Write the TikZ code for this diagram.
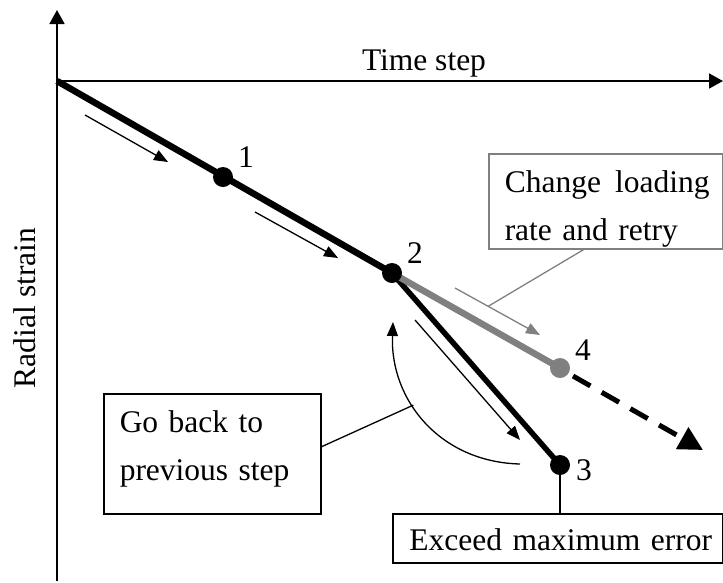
\documentclass[tikz,border=0pt]{standalone}
\usepackage{fontspec}
\setmainfont{Liberation Serif}
\usetikzlibrary{arrows.meta}
\definecolor{midgray}{RGB}{128,128,128}
\begin{document}
\begin{tikzpicture}[x=1pt,y=-1pt,
  every node/.style={font=\fontsize{31.5}{48}\selectfont},
  axis/.style={line width=1.8pt, -{Triangle[length=14pt,width=15pt]}},
  pathline/.style={line width=6.5pt},
  dotnode/.style={circle, fill=black, inner sep=0pt, minimum size=20pt},
  thinarrow/.style={line width=1.3pt, -{Triangle[length=14pt,width=11pt]}},
  leader/.style={line width=1.3pt},
  box/.style={draw, line width=1.5pt, inner ysep=0pt},
  lab/.style={anchor=base, inner sep=0pt}
]
\useasboundingbox (0,0) rectangle (723,582);

% axes
\coordinate (O) at (57,81);
\coordinate (ytop) at (57,10);
\coordinate (ybot) at (57,581);
\coordinate (xend) at (723,81);
\draw[axis] (ybot) -- (ytop);
\draw[axis] (O) -- (xend);
\node[lab] (tlabel) at (424,70) {Time step};
\node[lab, rotate=90] (rlabel) at (35,308) {Radial strain};

% points
\coordinate (c1) at (223,177);
\coordinate (c2) at (392,273);
\coordinate (c3) at (560,465);
\coordinate (c4) at (560,368);

% paths
\draw[pathline, line width=5.5pt, black] (c2) -- (c3);
\draw[pathline, midgray] (c2) -- (c4);
\draw[pathline, black] (O) -- (c2);

\node[dotnode] (p1) at (c1) {};
\node[dotnode] (p2) at (c2) {};
\node[dotnode] (p3) at (c3) {};
\node[dotnode, fill=midgray] (p4) at (c4) {};

\node[lab] (l1) at (246,167) {1};
\node[lab] (l2) at (415,263) {2};
\node[lab] (l3) at (584,480) {3};
\node[lab] (l4) at (583,360) {4};

% dashed continuation
\coordinate (dend) at (703,450);
\draw[line width=5pt, dash pattern=on 20pt off 13pt, -{Triangle[length=24pt,width=24pt]}]
  (p4) ++(13,8) coordinate (dstart) -- (dend);

% small arrows
\coordinate (a1s) at (85,115);  \coordinate (a1e) at (168,162);
\coordinate (a2s) at (255,212); \coordinate (a2e) at (338,258);
\coordinate (a3s) at (415,320); \coordinate (a3e) at (520,440);
\coordinate (gs) at (455,288);  \coordinate (ge) at (540,335);
\draw[thinarrow] (a1s) -- (a1e);
\draw[thinarrow] (a2s) -- (a2e);
\draw[thinarrow] (a3s) -- (a3e);
\draw[thinarrow, midgray] (gs) -- coordinate[pos=0.39] (gmid) (ge);

% curved arrow
\coordinate (cs) at (520,464);
\coordinate (ce) at (393,322);
\draw[thinarrow] (cs) .. controls (440,462) and (390,400) .. coordinate[pos=0.6] (cmid) (ce);

% boxes
\node[box, midgray, anchor=north west, inner xsep=16pt, text width=202pt,
      text height=39pt, text depth=56pt, align=left, text=black] (chbox) at (488,153)
  {\mbox{Change\hskip0.45em loading}\\\mbox{rate and retry}};
\node[box, anchor=north west, inner xsep=16pt, text width=185pt,
      text height=39pt, text depth=81pt, align=left] (gobox) at (103,393)
  {\mbox{Go back to}\\\mbox{previous step}};
\node[box, anchor=north west, inner xsep=0pt, text width=330pt,
      text height=37pt, text depth=12pt, align=center] (exbox) at (392,513)
  {\hskip6pt Exceed maximum error};

% leaders
\draw[leader, midgray] ([xshift=-22pt]chbox.south) -- (gmid);
\draw[leader] ([yshift=7pt]gobox.east) -- (cmid);
\draw[leader] (p3) -- (p3 |- exbox.north);
\end{tikzpicture}
\end{document}
